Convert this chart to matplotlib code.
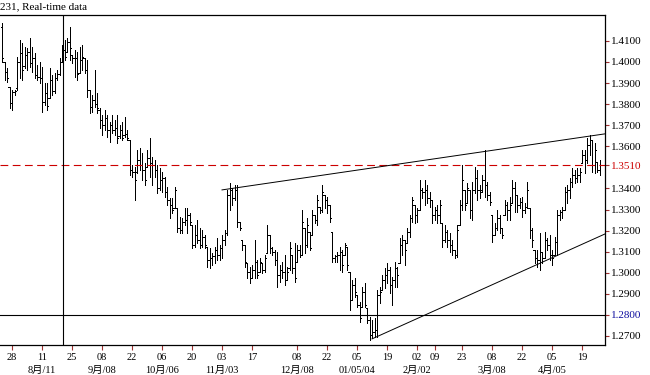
import numpy as np
import matplotlib
matplotlib.use("Agg")
import matplotlib.pyplot as plt
import matplotlib.transforms as mtransforms

plt.rcParams['font.family'] = ['Liberation Serif', 'Noto Sans CJK SC', 'DejaVu Sans']

title = "231, Real-time data"

# daily bars, prices x 10000
highs = [
    14186, 14000, 13972, 13882, 13867, 13867, 14024, 14105, 14091, 14072, 14067, 14114,
    14072, 14043, 13986, 14000, 13977, 13901, 13901, 13972, 13939, 13948, 13962, 14019,
    14081, 14105, 14114, 14167, 14034, 14057, 14048, 14072, 14081, 14019, 14010, 13867,
    13844, 13962, 13853, 13782, 13749, 13772, 13749, 13715, 13749, 13725, 13749, 13701,
    13715, 13739, 13678, 13630, 13512, 13502, 13583, 13592, 13569, 13521, 13583, 13640,
    13550, 13535, 13512, 13497, 13478, 13455, 13407, 13355, 13355, 13407, 13307, 13265,
    13260, 13307, 13307, 13284, 13227, 13227, 13250, 13212, 13203, 13179, 13122, 13117,
    13094, 13122, 13165, 13132, 13179, 13203, 13393, 13426, 13402, 13417, 13417, 13241,
    13155, 13132, 13046, 13027, 13037, 13155, 13061, 13070, 13046, 13084, 13227, 13179,
    13122, 13108, 13098, 13037, 13051, 13084, 13027, 13146, 13084, 13141, 13132, 13132,
    13298, 13212, 13260, 13193, 13298, 13274, 13369, 13312, 13417, 13369, 13360, 13322,
    13193, 13084, 13098, 13122, 13108, 13141, 13122, 13004, 12966, 12975, 12895, 12861,
    12932, 12951, 12833, 12790, 12776, 12786, 12918, 12932, 12989, 13023, 13046, 13027,
    12980, 13051, 13027, 13165, 13179, 13155, 13212, 13274, 13360, 13322, 13307, 13440,
    13402, 13440, 13417, 13383, 13345, 13312, 13322, 13345, 13236, 13227, 13203, 13189,
    13155, 13108, 13227, 13345, 13512, 13393, 13426, 13393, 13431, 13502, 13488, 13417,
    13464, 13583, 13431, 13383, 13274, 13236, 13298, 13274, 13212, 13345, 13336, 13360,
    13440, 13431, 13369, 13355, 13360, 13331, 13431, 13307, 13212, 13108, 13108, 13189,
    13098, 13193, 13165, 13179, 13108, 13170, 13298, 13298, 13312, 13407, 13417, 13450,
    13497, 13488, 13497, 13497, 13583, 13583, 13640, 13654, 13630, 13616, 13526, 13535,
]
lows = [
    14000, 13915, 13905, 13782, 13772, 13844, 13867, 13924, 13915, 13972, 13962, 13977,
    13953, 13924, 13915, 13901, 13763, 13796, 13772, 13829, 13844, 13853, 13915, 13939,
    14000, 14010, 14048, 14010, 13996, 13929, 13915, 13948, 13962, 13948, 13834, 13758,
    13763, 13787, 13758, 13687, 13654, 13678, 13644, 13621, 13663, 13654, 13616, 13640,
    13630, 13644, 13630, 13464, 13455, 13345, 13474, 13488, 13440, 13417, 13502, 13455,
    13417, 13455, 13379, 13393, 13383, 13360, 13322, 13260, 13284, 13307, 13193, 13189,
    13189, 13227, 13189, 13227, 13117, 13122, 13141, 13117, 13122, 13117, 13027, 13023,
    13037, 13046, 13061, 13061, 13070, 13132, 13179, 13298, 13322, 13345, 13217, 13203,
    13108, 13027, 12975, 12951, 12975, 12975, 12975, 13004, 12999, 13004, 13094, 13094,
    13084, 13037, 12932, 12956, 12975, 12942, 12966, 13013, 12999, 12956, 13051, 13075,
    13084, 13094, 13122, 13108, 13179, 13236, 13227, 13284, 13288, 13307, 13284, 13241,
    13051, 13051, 13051, 13013, 13004, 13084, 13013, 12824, 12871, 12885, 12838, 12767,
    12838, 12838, 12762, 12681, 12691, 12696, 12696, 12857, 12918, 12928, 12951, 12904,
    12847, 12932, 12932, 13046, 13084, 13037, 13141, 13170, 13241, 13236, 13241, 13298,
    13355, 13322, 13331, 13312, 13236, 13250, 13236, 13236, 13122, 13146, 13122, 13098,
    13084, 13070, 13075, 13227, 13298, 13298, 13331, 13260, 13250, 13379, 13345, 13355,
    13383, 13360, 13345, 13322, 13146, 13179, 13203, 13189, 13165, 13274, 13250, 13250,
    13331, 13288, 13288, 13307, 13265, 13284, 13307, 13165, 13122, 13046, 13027, 13013,
    13046, 13070, 13108, 13061, 13037, 13084, 13084, 13250, 13260, 13298, 13331, 13355,
    13407, 13426, 13431, 13431, 13521, 13474, 13521, 13559, 13478, 13474, 13478, 13464,
]
opens = [
    14167, 14000, 13953, 13882, 13806, 13858, 13877, 14000, 14043, 13981, 14034, 14048,
    13996, 14019, 13939, 13929, 13924, 13810, 13853, 13829, 13915, 13863, 13924, 13943,
    14000, 14057, 14048, 14095, 14034, 14019, 14019, 13948, 14010, 14019, 13962, 13867,
    13787, 13820, 13801, 13772, 13725, 13701, 13734, 13678, 13701, 13678, 13687, 13649,
    13678, 13654, 13659, 13630, 13488, 13478, 13478, 13535, 13512, 13488, 13502, 13545,
    13521, 13512, 13488, 13402, 13440, 13450, 13383, 13345, 13322, 13307, 13307, 13212,
    13203, 13241, 13250, 13274, 13227, 13132, 13179, 13155, 13132, 13170, 13122, 13061,
    13070, 13079, 13108, 13084, 13117, 13155, 13189, 13369, 13393, 13355, 13393, 13241,
    13155, 13132, 13046, 13004, 12975, 13013, 13051, 13004, 13046, 13013, 13094, 13179,
    13117, 13098, 13061, 12989, 13013, 13004, 12966, 13023, 13084, 13023, 13051, 13108,
    13084, 13212, 13132, 13193, 13179, 13274, 13250, 13312, 13298, 13369, 13345, 13322,
    13193, 13070, 13079, 13084, 13098, 13084, 13122, 13004, 12871, 12942, 12895, 12847,
    12838, 12909, 12833, 12776, 12705, 12719, 12729, 12895, 12918, 12966, 12989, 13013,
    12942, 12966, 13023, 13046, 13132, 13155, 13141, 13193, 13260, 13322, 13274, 13298,
    13393, 13383, 13393, 13355, 13345, 13274, 13298, 13274, 13236, 13155, 13193, 13155,
    13132, 13108, 13084, 13227, 13322, 13393, 13331, 13393, 13298, 13393, 13450, 13393,
    13393, 13440, 13417, 13369, 13274, 13179, 13212, 13260, 13212, 13274, 13322, 13298,
    13331, 13402, 13369, 13322, 13336, 13298, 13312, 13307, 13203, 13108, 13070, 13061,
    13098, 13070, 13155, 13132, 13084, 13084, 13146, 13274, 13288, 13298, 13383, 13393,
    13431, 13464, 13450, 13464, 13521, 13559, 13535, 13606, 13630, 13512, 13526, 13488,
]
closes = [
    14019, 13953, 13924, 13806, 13858, 13863, 14000, 14043, 13962, 14034, 14048, 13996,
    14019, 13939, 13929, 13924, 13810, 13853, 13791, 13915, 13863, 13924, 13943, 14000,
    14057, 14024, 14095, 14067, 14019, 14019, 13943, 14010, 14024, 13962, 13867, 13787,
    13820, 13801, 13782, 13725, 13701, 13734, 13678, 13701, 13678, 13687, 13640, 13678,
    13640, 13659, 13640, 13488, 13478, 13440, 13535, 13512, 13488, 13440, 13545, 13521,
    13512, 13488, 13402, 13440, 13450, 13383, 13345, 13322, 13298, 13393, 13212, 13203,
    13241, 13250, 13274, 13241, 13132, 13179, 13155, 13132, 13170, 13132, 13061, 13070,
    13079, 13108, 13084, 13117, 13155, 13189, 13369, 13393, 13355, 13393, 13241, 13212,
    13132, 13051, 13004, 12975, 13013, 13051, 12989, 13051, 13013, 13070, 13179, 13117,
    13098, 13061, 12989, 13013, 13004, 12966, 13004, 13117, 13023, 12975, 13108, 13084,
    13241, 13132, 13227, 13117, 13274, 13250, 13345, 13298, 13383, 13345, 13322, 13260,
    13070, 13079, 13084, 13098, 13037, 13132, 13037, 12871, 12942, 12909, 12847, 12786,
    12909, 12847, 12776, 12705, 12719, 12729, 12895, 12909, 12966, 12989, 13013, 12942,
    12966, 13023, 12989, 13132, 13155, 13108, 13193, 13260, 13345, 13274, 13298, 13393,
    13383, 13393, 13355, 13345, 13274, 13298, 13274, 13322, 13155, 13193, 13155, 13132,
    13108, 13084, 13203, 13322, 13440, 13322, 13402, 13298, 13393, 13450, 13393, 13383,
    13440, 13417, 13369, 13336, 13179, 13212, 13260, 13212, 13179, 13322, 13298, 13322,
    13402, 13369, 13322, 13336, 13298, 13312, 13393, 13203, 13155, 13070, 13061, 13098,
    13070, 13155, 13132, 13084, 13070, 13146, 13274, 13288, 13298, 13383, 13393, 13431,
    13464, 13450, 13464, 13478, 13559, 13535, 13606, 13630, 13512, 13583, 13488, 13512,
]

# bar index of each date tick, day label, month label
tick_pos = [4, 16, 28, 40, 52, 64, 76, 88, 100, 118, 130, 142, 154, 166, 173, 184, 196, 208, 220, 232]
tick_days = ["28", "11", "25", "08", "22", "06", "20", "03", "17", "08", "22", "05", "19",
             "02", "09", "23", "08", "22", "05", "19"]
tick_months = ["", "8月/11", "", "9月/08", "", "10月/06", "", "11月/03", "", "12月/08", "",
               "01/05/04", "", "2月/02", "", "", "3月/08", "", "4月/05", ""]

price_ticks = [1.41, 1.40, 1.39, 1.38, 1.37, 1.36, 1.351, 1.34, 1.33, 1.32, 1.31, 1.30, 1.29, 1.28, 1.27]
red_level = 1.3510
blue_level = 1.2800
cursor_x = 24.4

upper_x = [88, 241.2]
upper_y = [1.3393, 1.3659]
lower_x = [148, 241.2]
lower_y = [1.2686, 1.3184]

hi = np.array(highs) / 10000
lo = np.array(lows) / 10000
op = np.array(opens) / 10000
cl = np.array(closes) / 10000
x = np.arange(len(hi))

fig = plt.figure(figsize=(6.5, 3.75), dpi=100)
ax = fig.add_axes([0, 0.08, 605 / 650, 0.88])

ax.vlines(x, lo, hi, color="black", lw=0.55, antialiased=False)
ax.hlines(op, x - 0.42, x, color="black", lw=0.55, antialiased=False)
ax.hlines(cl, x, x + 0.42, color="black", lw=0.55, antialiased=False)

ax.axhline(red_level, color="#cc0000", lw=0.8, ls=(0, (7, 4)))
ax.axhline(blue_level, color="black", lw=0.8)
ax.axvline(cursor_x, color="black", lw=0.8)
ax.plot(upper_x, upper_y, color="black", lw=0.7)
ax.plot(lower_x, lower_y, color="black", lw=0.7)

ax.set_xlim(-0.8, 241.2)
ax.set_ylim(1.2657, 1.4223)

ax.spines["left"].set_visible(False)
for s in ["top", "right", "bottom"]:
    ax.spines[s].set_linewidth(0.9)

ax.yaxis.tick_right()
ax.set_yticks(price_ticks)
ax.set_yticklabels([f"{p:.4f}" for p in price_ticks])
ax.tick_params(axis="y", which="both", left=False, right=True, color="#a03030",
               length=3, width=0.8, pad=1, labelsize=8)
for lbl, p in zip(ax.get_yticklabels(), price_ticks):
    if abs(p - red_level) < 1e-6:
        lbl.set_color("#cc0000")
    elif abs(p - blue_level) < 1e-6:
        lbl.set_color("#1010a0")

# day numbers as tick labels, month/date row as separate texts
ax.set_xticks(tick_pos)
ax.set_xticklabels(tick_days)
ax.tick_params(axis="x", color="#a03030", length=3.5, width=0.8, pad=2.5, labelsize=7.5)
trans = mtransforms.blended_transform_factory(ax.transData, ax.transAxes)
for pos, m in zip(tick_pos, tick_months):
    if m:
        ax.text(pos, -0.076, m, transform=trans, ha="center", va="center", fontsize=7.5)

fig.text(0.0, 0.981, title, fontsize=8, ha="left", va="center")

fig.savefig("out.png", dpi=100)
